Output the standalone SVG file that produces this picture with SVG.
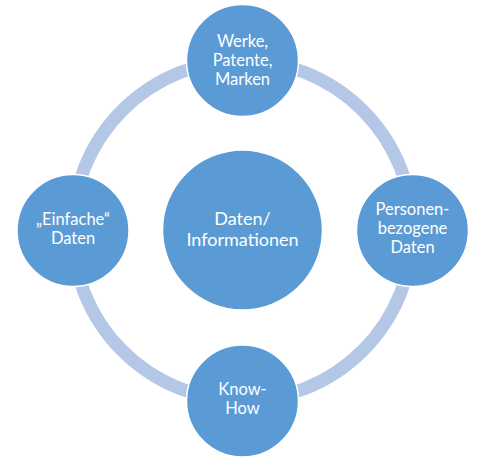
<svg xmlns="http://www.w3.org/2000/svg" width="481" height="462" viewBox="0 0 481 462">
<style>
.node{fill:#5b9bd5;stroke:#ffffff;stroke-width:1.5}
.t{fill:#ffffff;font-family:Lato,"Open Sans",sans-serif;font-size:16.5px;text-anchor:middle}
.tc{fill:#ffffff;font-family:Lato,"Open Sans",sans-serif;font-size:18px;text-anchor:middle}
</style>
<rect width="481" height="462" fill="#ffffff"/>
<g id="connectors">
<circle cx="242.5" cy="230.5" r="170" fill="none" stroke="#b4c7e7" stroke-width="13"/>
</g>
<g id="center">
<circle class="node" cx="242.5" cy="230" r="80"/>
<text class="tc" x="242.5" y="225">Daten/</text>
<text class="tc" x="242.5" y="246">Informationen</text>
</g>
<g id="top">
<circle class="node" cx="242.5" cy="60.5" r="56"/>
<text class="t" x="242.5" y="47">Werke,</text>
<text class="t" x="242.5" y="66">Patente,</text>
<text class="t" x="242.5" y="85">Marken</text>
</g>
<g id="left">
<circle class="node" cx="73" cy="230.5" r="56"/>
<text class="t" x="73" y="225">„Einfache“</text>
<text class="t" x="73" y="244">Daten</text>
</g>
<g id="right">
<circle class="node" cx="412.5" cy="230.5" r="56"/>
<text class="t" x="412.5" y="215">Personen-</text>
<text class="t" x="412.5" y="234">bezogene</text>
<text class="t" x="412.5" y="253">Daten</text>
</g>
<g id="bottom">
<circle class="node" cx="242.5" cy="401" r="56"/>
<text class="t" x="242.5" y="395">Know-</text>
<text class="t" x="242.5" y="414">How</text>
</g>
</svg>
